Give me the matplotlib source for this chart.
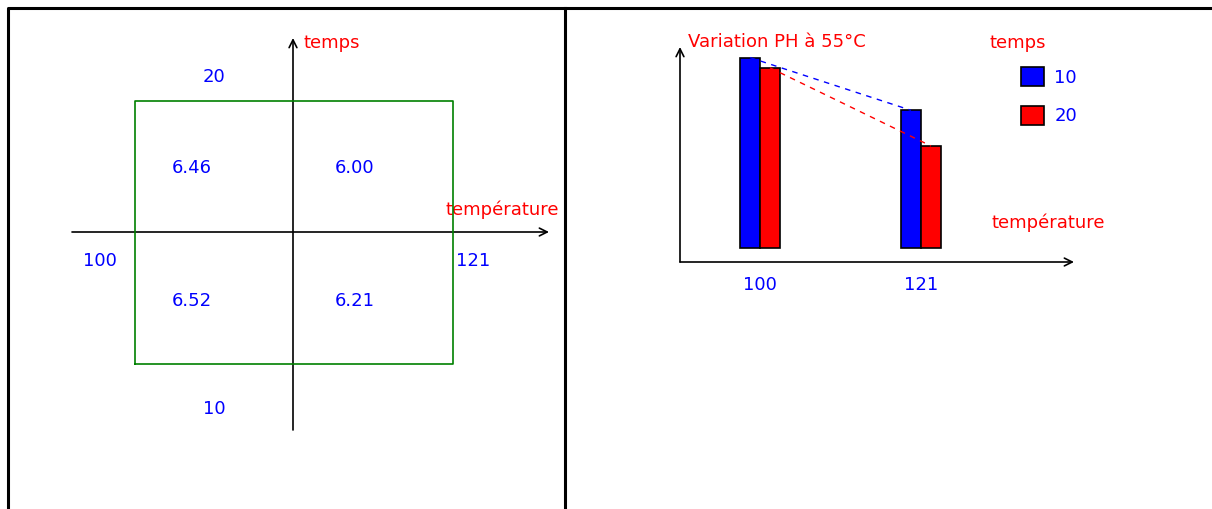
import numpy as np
import matplotlib.pyplot as plt

# données : pH selon température (100, 121) et temps (10, 20)
temperature = ["100", "121"]
temps = ["10", "20"]
niveaux = [-1, 1]          # niveaux codés du plan 2x2
ph_10 = [6.52, 6.21]       # temps = 10
ph_20 = [6.46, 6.00]       # temps = 20
base = 5.4                 # pied des barres

W, H = 1212, 509
fig = plt.figure(figsize=(W / 100, H / 100), dpi=100)
fs = 13

# fond en pixels (cadre du tableau, flèches, titres)
bg = fig.add_axes([0, 0, 1, 1])
bg.set_xlim(0, W)
bg.set_ylim(H, 0)
bg.axis("off")
bg.plot([8, 8, W], [H, 8, 8], color="black", lw=2.2, solid_capstyle="projecting")
bg.plot([565, 565], [8, H], color="black", lw=2.2)

def fleche(x0, y0, x1, y1):
    bg.annotate("", xy=(x1, y1), xytext=(x0, y0),
                arrowprops=dict(arrowstyle="->", lw=1.2, color="black",
                                mutation_scale=14, shrinkA=0, shrinkB=0))

# --- panneau gauche : plan factoriel ---
fleche(72, 232, 549, 232)
fleche(293, 430, 293, 38)
bg.text(303, 43, "temps", color="red", fontsize=fs, va="center")
bg.text(445, 210, "température", color="red", fontsize=fs, va="center")
bg.text(100, 261, temperature[0], color="blue", fontsize=fs, ha="center", va="center")
bg.text(473, 261, temperature[1], color="blue", fontsize=fs, ha="center", va="center")
bg.text(214, 77, temps[1], color="blue", fontsize=fs, ha="center", va="center")
bg.text(214, 409, temps[0], color="blue", fontsize=fs, ha="center", va="center")

cx, sx, cy, sy = 294, 159, 232, 131.5
ax1 = fig.add_axes([8 / W, 0, (565 - 8) / W, (H - 8) / H])
ax1.set_xlim((8 - cx) / sx, (565 - cx) / sx)
ax1.set_ylim((cy - H) / sy, (cy - 8) / sy)
ax1.axis("off")
lo, hi = niveaux
ax1.plot([lo, hi, hi, lo, lo], [lo, lo, hi, hi, lo], color="green", lw=1.2)
for i, xt in enumerate(niveaux):
    for j, (yt, serie) in enumerate(zip(niveaux, [ph_10, ph_20])):
        ax1.text(0.51 * xt - 0.13, 0.506 * yt - 0.02, f"{serie[i]:.2f}",
                 color="blue", fontsize=fs, ha="center", va="center")

# --- panneau droit : barres ---
fleche(680, 262, 1074, 262)
fleche(680, 262, 680, 47)
bg.text(688, 42, "Variation PH à 55°C", color="red", fontsize=fs, va="center")
bg.text(990, 43, "temps", color="red", fontsize=fs, va="center")
bg.text(991, 223, "température", color="red", fontsize=fs, va="center")

pitch, x0 = 161, 760
ax2 = fig.add_axes([680 / W, 1 - 261 / H, 400 / W, 231 / H])
ax2.patch.set_visible(False)
ax2.set_xlim((680 - x0) / pitch, (1080 - x0) / pitch)
ax2.set_ylim(base - 13 / 170, base + 218 / 170)
for s in ax2.spines.values():
    s.set_visible(False)
ax2.set_yticks([])
x = np.arange(len(temperature))
w = 0.124
b1 = ax2.bar(x - w / 2, np.array(ph_10) - base, w, bottom=base, color="blue",
             edgecolor="black", linewidth=1.2)
b2 = ax2.bar(x + w / 2, np.array(ph_20) - base, w, bottom=base, color="red",
             edgecolor="black", linewidth=1.2)
ax2.plot(x - w / 2, ph_10, color="blue", lw=1, ls=(0, (4, 4)))
ax2.plot(x + w / 2, ph_20, color="red", lw=1, ls=(0, (4, 4)))
ax2.set_xticks(x, temperature)
ax2.tick_params(axis="x", length=0, pad=11, labelcolor="blue", labelsize=fs)
ax2.legend([b1, b2], temps, loc="upper left", bbox_to_anchor=(1021 / W, 1 - 67 / H),
           bbox_transform=fig.transFigure, frameon=False, borderpad=0, borderaxespad=0,
           handlelength=1.25, handleheight=1.25, handletextpad=0.6, labelspacing=1.05,
           labelcolor="blue", fontsize=fs)

fig.savefig("out.png", dpi=100)
